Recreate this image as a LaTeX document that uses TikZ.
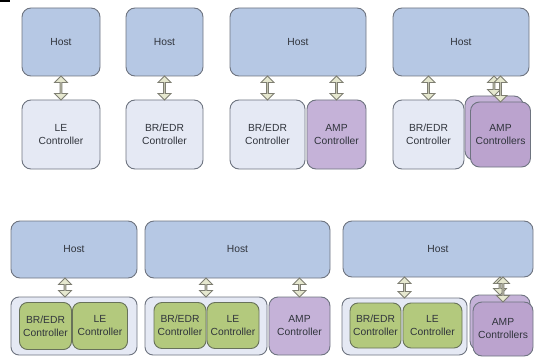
\documentclass[tikz,border=0pt]{standalone}
\usepackage{fontspec}
\setmainfont{Liberation Sans}
\usetikzlibrary{shapes.arrows}
\definecolor{hostblue}{HTML}{B6C8E4}
\definecolor{ctrlpale}{HTML}{E5E9F4}
\definecolor{amppurple}{HTML}{C5B2D8}
\definecolor{ampdeep}{HTML}{BBA3CE}
\definecolor{legreen}{HTML}{B3C97D}
\definecolor{boxedge}{HTML}{6E7480}
\definecolor{greenedge}{HTML}{68725A}
\definecolor{hcifill}{HTML}{E6E8CF}
\definecolor{hciedge}{HTML}{7E7E72}
\definecolor{labelgray}{HTML}{30343C}
\begin{document}
\begin{tikzpicture}[x=1pt,y=-1pt,font=\fontsize{10.3}{13}\selectfont,
    blk/.style={draw=boxedge,line width=.9pt,rounded corners=9pt,inner sep=0pt,align=center,text=labelgray},
    sz/.style 2 args={minimum width=#1pt,minimum height=#2pt},
    host/.style={blk,fill=hostblue},
    ctrl/.style={blk,fill=ctrlpale},
    amp/.style={blk,fill=amppurple},
    ampfront/.style={blk,fill=ampdeep},
    ctnr/.style={blk,fill=ctrlpale,rounded corners=8pt},
    le/.style={blk,draw=greenedge,fill=legreen,rounded corners=8pt},
    hcia/.style={shape=double arrow,shape border rotate=90,draw=hciedge,fill=hcifill,line width=.8pt,
      inner sep=0pt,minimum width=13pt,double arrow head extend=2.6pt,double arrow head indent=0pt,minimum height=#1pt}]
  \useasboundingbox (0,0) rectangle (534,358);
  \fill (0,0) rectangle (10,2);
  % top row
  \node[host,sz={78}{68}] (h1) at (61,42) {Host};
  \node[ctrl,sz={78}{69}] (c1) at (61,134.5) {LE\\Controller};
  \path (h1.south) -- (c1.north) node[midway,hcia=24]{};

  \node[host,sz={77}{68}] (h2) at (164.5,42) {Host};
  \node[ctrl,sz={77}{69}] (c2) at (164.5,134.5) {BR/EDR\\Controller};
  \path (h2.south) -- (c2.north) node[midway,hcia=24]{};

  \node[host,sz={136}{68}] (h3) at (298,42) {Host};
  \node[ctrl,sz={75}{69}] (c3a) at (267.5,134.5) {BR/EDR\\Controller};
  \node[amp,sz={59}{69}] (c3b) at (336.5,134.5) {AMP\\Controller};
  \path (h3.south -| c3a) -- (c3a.north) node[midway,hcia=24]{};
  \path (h3.south -| c3b) -- (c3b.north) node[midway,hcia=24]{};

  \node[host,sz={136}{68}] (h4) at (461,42) {Host};
  \node[ctrl,sz={71}{69}] (c4a) at (428.5,134.5) {BR/EDR\\Controller};
  \node[amp,sz={58}{64}] (c4b) at (494,128) {};
  \path (h4.south -| c4a) -- (c4a.north) node[midway,hcia=24]{};
  \path (h4.south -| c4b) -- (c4b.north) node[midway,hcia=20]{};
  \node[ampfront,sz={60}{65}] (c4c) at (500.5,134.5) {AMP\\Controllers};
  \path (h4.south -| c4c) -- (c4c.north) node[midway,hcia=26]{};

  % bottom row
  \node[host,sz={126}{57}] (h5) at (74,249.5) {Host};
  \node[ctnr,sz={126}{58}] (k5) at (74,326) {};
  \node[le,sz={52}{47}] (g5a) at (45.5,326) {BR/EDR\\Controller};
  \node[le,sz={55}{47}] (g5b) at (100,326) {LE\\Controller};
  \coordinate (x5) at (65,0);
  \path (h5.south -| x5) -- (k5.north -| x5) node[midway,hcia=19]{};

  \node[host,sz={185}{57}] (h6) at (237.5,249.5) {Host};
  \node[ctnr,sz={122}{58}] (k6) at (206,326) {};
  \node[le,sz={52}{46}] (g6a) at (180,325.5) {BR/EDR\\Controller};
  \node[le,sz={52}{46}] (g6b) at (233,325.5) {LE\\Controller};
  \node[amp,sz={61}{58}] (a6) at (299.5,326) {AMP\\Controller};
  \path (h6.south -| k6) -- (k6.north) node[midway,hcia=19]{};
  \path (h6.south -| a6) -- (a6.north) node[midway,hcia=19]{};

  \node[host,sz={190}{56}] (h7) at (438,249) {Host};
  \node[ctnr,sz={125}{57}] (k7) at (404.5,326.5) {};
  \node[le,sz={51}{45}] (g7a) at (375.5,325.5) {BR/EDR\\Controller};
  \node[le,sz={59}{45}] (g7b) at (432.5,325.5) {LE\\Controller};
  \node[amp,sz={60}{55}] (a7b) at (500,322.5) {};
  \path (h7.south -| k7) -- (k7.north) node[midway,hcia=21]{};
  \path (h7.south -| a7b) -- (a7b.north) node[midway,hcia=18]{};
  \node[ampfront,sz={60}{54}] (a7c) at (503,329) {AMP\\Controllers};
  \path (h7.south -| a7c) -- (a7c.north) node[midway,hcia=25]{};
\end{tikzpicture}
\end{document}
